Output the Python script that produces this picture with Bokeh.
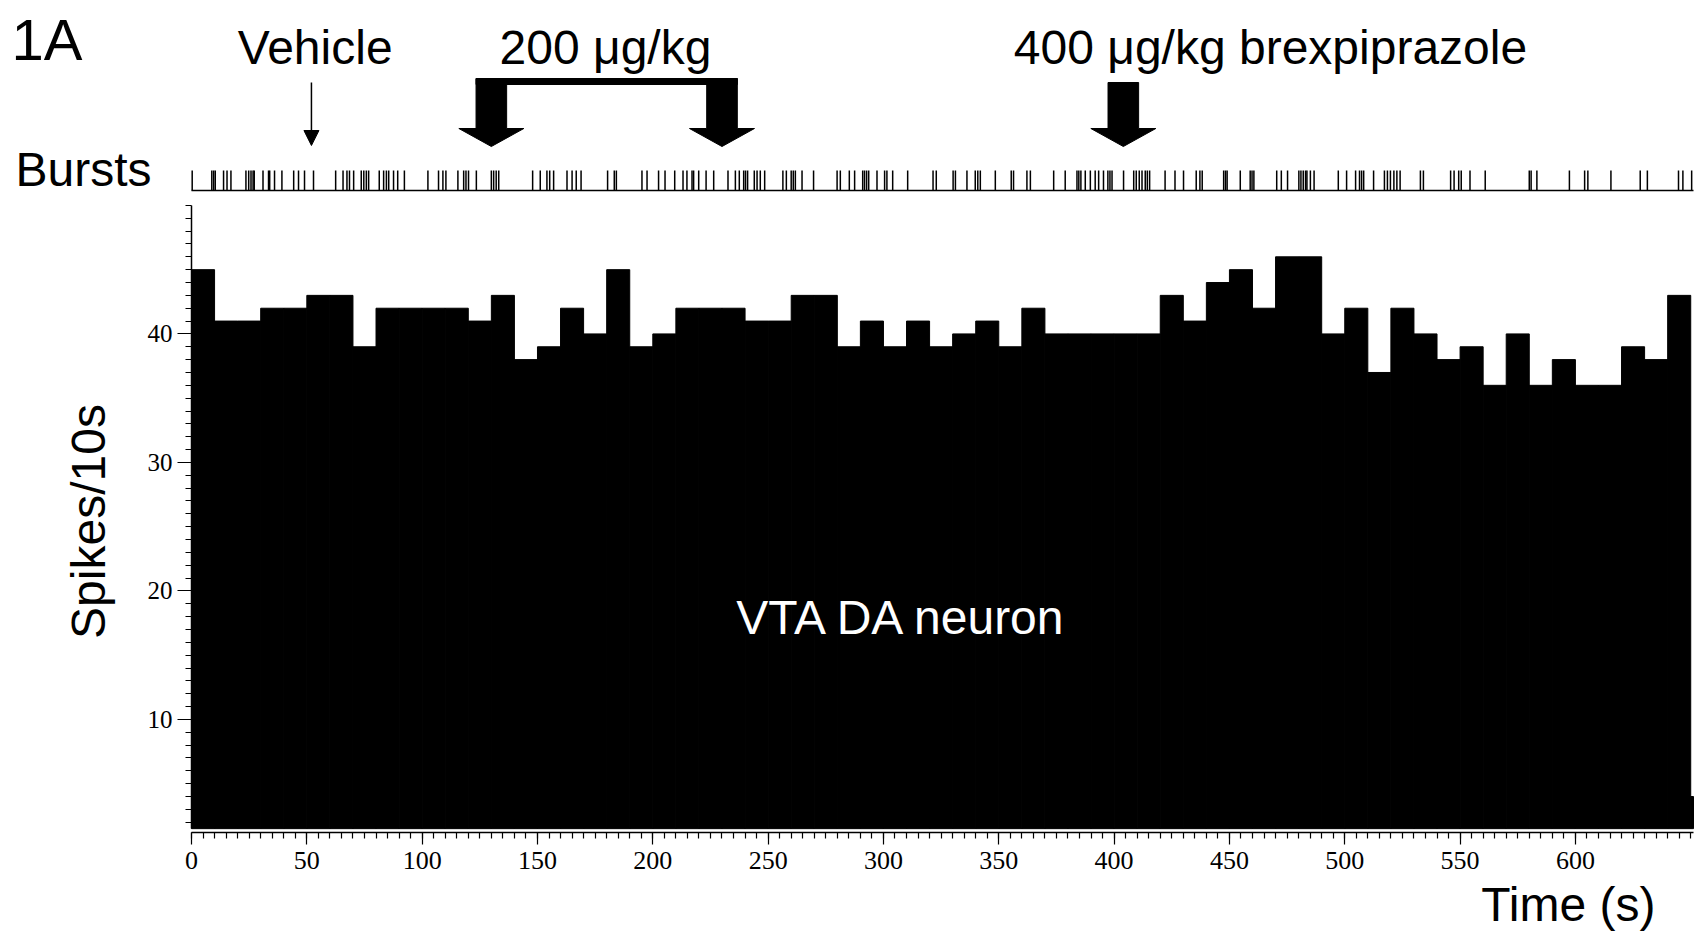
import math
from bokeh.plotting import figure
from bokeh.models import Range1d, FixedTicker, ColumnDataSource
from bokeh.core.properties import value
from bokeh.embed import file_html
from bokeh.resources import INLINE

# ---------------- data ----------------
bin_width = 10  # seconds per histogram bin
spike_counts = [45, 41, 41, 42, 42, 43, 43, 39, 42, 42,
                42, 42, 41, 43, 38, 39, 42, 40, 45, 39,
                40, 42, 42, 42, 41, 41, 43, 43, 39, 41,
                39, 41, 39, 40, 41, 39, 42, 40, 40, 40,
                40, 40, 43, 41, 44, 45, 42, 46, 46, 40,
                42, 37, 42, 40, 38, 39, 36, 40, 36, 38,
                36, 36, 39, 38, 43, 4]

burst_times = [0.3, 8.8, 9.6, 10.3, 13.9, 15.4, 17.1, 23.6, 24.8, 25.8, 26.7, 27.2,
               31.0, 33.4, 33.9, 36.0, 39.2, 44.3, 46.4, 49.0, 52.9, 62.5, 65.7,
               67.4, 68.5, 70.3, 73.6, 74.7, 75.8, 76.8, 81.4, 83.3, 84.5, 85.5,
               87.6, 89.4, 92.3, 102.5, 107.1, 109.0, 110.3, 115.5, 118.0, 119.0,
               120.1, 123.5, 130.0, 131.0, 132.1, 133.2, 147.9, 151.2, 154.1, 155.3,
               157.0, 162.8, 165.0, 166.8, 168.9, 180.4, 183.3, 184.2, 195.3, 197.5,
               202.5, 205.3, 209.5,
               213.1, 214.8, 217.0, 217.7, 219.9, 223.1, 226.4, 232.6, 235.8, 237.5,
               239.4, 240.2, 241.1, 244.0, 245.2, 246.6, 248.5, 256.4, 257.9, 260.0,
               260.9, 261.8, 264.7, 269.7, 279.9, 281.3, 285.2, 287.5, 291.0, 291.8,
               292.7, 293.6, 297.2, 300.5, 301.5, 304.0, 310.5, 321.5, 322.9, 330.2,
               331.2, 336.2, 339.8, 340.9, 342.0, 348.5, 355.4, 356.4, 362.2, 363.7,
               373.8, 378.8, 383.9, 384.7, 385.6, 387.5, 389.7, 391.8, 393.3, 395.4,
               397.3, 398.2, 399.1, 404.1, 408.5, 409.6, 410.9, 412.1, 413.5, 414.4,
               415.4,
               422.1, 426.4, 430.1, 435.6, 437.2, 438.2, 447.5, 448.3, 449.0, 454.7,
               459.0, 459.8, 460.6, 470.5, 472.5, 475.2, 480.1, 481.0, 482.0, 483.0,
               483.6, 485.1, 486.7, 497.2, 500.8, 504.7, 506.4, 507.3, 508.2, 512.5,
               517.2, 518.5, 519.8, 521.3, 522.6, 524.0, 532.8, 534.1, 545.9, 547.4,
               549.4, 550.5, 554.3, 560.9, 580.0, 580.8, 583.3, 597.4, 604.0, 605.4,
               615.4, 628.1, 631.2, 644.7, 646.6, 650.4]

x_ticks = list(range(0, 601, 50))
y_ticks = [10, 20, 30, 40]
record_end = 651.2        # end of the recorded window (s)

vehicle_time = 52
dose200_times = [130, 230]
dose400_time = 404

panel_label = "1A"
vehicle_text = "Vehicle"
dose200_text = "200 μg/kg"
dose400_text = "400 μg/kg brexpiprazole"
bursts_text = "Bursts"
y_label_text = "Spikes/10s"
x_label_text = "Time (s)"
neuron_text = "VTA DA neuron"

# ---------------- layout ----------------
W, H = 1696, 937
FL, FR, FB = 191, 1693, 832       # chart area edges in canvas pixels
PXU = (FR - FL) / record_end      # pixels per second
PYU = 12.85                       # pixels per spike count
Y_AXIS_BASE = 1.2                 # count value at canvas row FB
HIST_BOTTOM = 1.5
SANS = "Liberation Sans"
SERIF = "Liberation Serif"


def tx(px):
    """canvas column -> time"""
    return (px - FL) / PXU


def cy(row):
    """canvas row -> count"""
    return Y_AXIS_BASE + (FB - row) / PYU


p = figure(width=W, height=H, x_range=Range1d(tx(0), tx(W)), y_range=Range1d(cy(H), cy(0)),
           min_border=0, min_border_left=0, min_border_right=0, min_border_top=0,
           min_border_bottom=0, toolbar_location=None, output_backend="svg")
p.extra_x_ranges = {"px": Range1d(0, W)}
p.extra_y_ranges = {"px": Range1d(H, 0)}
p.grid.visible = False
p.outline_line_color = None
p.background_fill_color = "white"
p.border_fill_color = "white"

# histogram (last bin cut at the end of the recording)
lefts = [i * bin_width for i in range(len(spike_counts))]
rights = [min(l + bin_width, record_end) for l in lefts]
src = ColumnDataSource(dict(left=lefts, right=rights, top=spike_counts))
p.quad(left="left", right="right", top="top", bottom=HIST_BOTTOM, source=src,
       fill_color="black", line_color="black", line_width=1)

# burst raster
RT, RB = 170, 190
p.segment(x0=burst_times, x1=burst_times, y0=[RB] * len(burst_times), y1=[RT] * len(burst_times),
          y_range_name="px", line_color="black", line_width=1.5)
p.segment(x0=[0], x1=[record_end], y0=[RB], y1=[RB], y_range_name="px",
          line_color="black", line_width=1.5)

# vehicle arrow
p.segment(x0=[vehicle_time], x1=[vehicle_time], y0=[82], y1=[132], y_range_name="px",
          line_color="black", line_width=1.5)
p.patches(xs=[[vehicle_time - 7.5 / PXU, vehicle_time + 7.5 / PXU, vehicle_time]],
          ys=[[130, 130, 145]], y_range_name="px", fill_color="black", line_color="black")


# block arrows
def block_arrow(t, top):
    hs, hh = 15.3 / PXU, 32.5 / PXU
    xs = [t - hs, t + hs, t + hs, t + hh, t, t - hh, t - hs]
    ys = [top, top, 128, 128, 146, 128, 128]
    return xs, ys


arrows = [block_arrow(t, 78) for t in dose200_times] + [block_arrow(dose400_time, 82)]
p.patches(xs=[a[0] for a in arrows], ys=[a[1] for a in arrows], y_range_name="px",
          fill_color="black", line_color="black", line_width=1)
p.quad(left=[dose200_times[0] - 15.3 / PXU], right=[dose200_times[1] + 15.3 / PXU],
       top=[78], bottom=[84], y_range_name="px", fill_color="black", line_color="black")

# axes, pinned inside the canvas-wide frame
yax = p.yaxis[0]
yax.fixed_location = 0
yax.ticker = FixedTicker(ticks=y_ticks, minor_ticks=list(range(2, 51)))
yax.bounds = (HIST_BOTTOM, 50)
yax.major_tick_out = 14
yax.major_tick_in = 0
yax.minor_tick_out = 6
yax.minor_tick_in = 0
yax.axis_line_width = 1.5
yax.major_tick_line_width = 1.2
yax.minor_tick_line_width = 1.2
yax.major_label_text_font = SERIF
yax.major_label_text_font_size = "25px"
yax.major_label_text_color = "black"
yax.major_label_standoff = 5

xax = p.xaxis[0]
xax.fixed_location = Y_AXIS_BASE
xax.ticker = FixedTicker(ticks=x_ticks, minor_ticks=list(range(0, 651, 5)))
xax.bounds = (0, record_end)
xax.major_tick_out = 12
xax.major_tick_in = 0
xax.minor_tick_out = 6
xax.minor_tick_in = 0
xax.axis_line_width = 1.5
xax.major_tick_line_width = 1.2
xax.minor_tick_line_width = 1.2
xax.major_label_text_font = SERIF
xax.major_label_text_font_size = "26px"
xax.major_label_text_color = "black"
xax.major_label_standoff = 7


def txt(x, y, text, size="48px", align="left", color="black", angle=0.0):
    p.text(x=[x], y=[y], text=[text], text_font=value(SANS), text_font_size=value(size),
           text_align=align, text_baseline="middle", text_color=color, angle=angle,
           x_range_name="px", y_range_name="px")


txt(11, 39, panel_label, size="58px")
txt(314.7, 47, vehicle_text, align="center")
txt(605, 47, dose200_text, align="center")
txt(1270, 47, dose400_text, align="center")
txt(15, 169, bursts_text)
txt(88, 521, y_label_text, align="center", angle=math.pi / 2)
txt(902, 617, neuron_text, align="center", color="white")
txt(1655, 904, x_label_text, align="right")

open("out.html", "w").write(file_html(p, INLINE))
